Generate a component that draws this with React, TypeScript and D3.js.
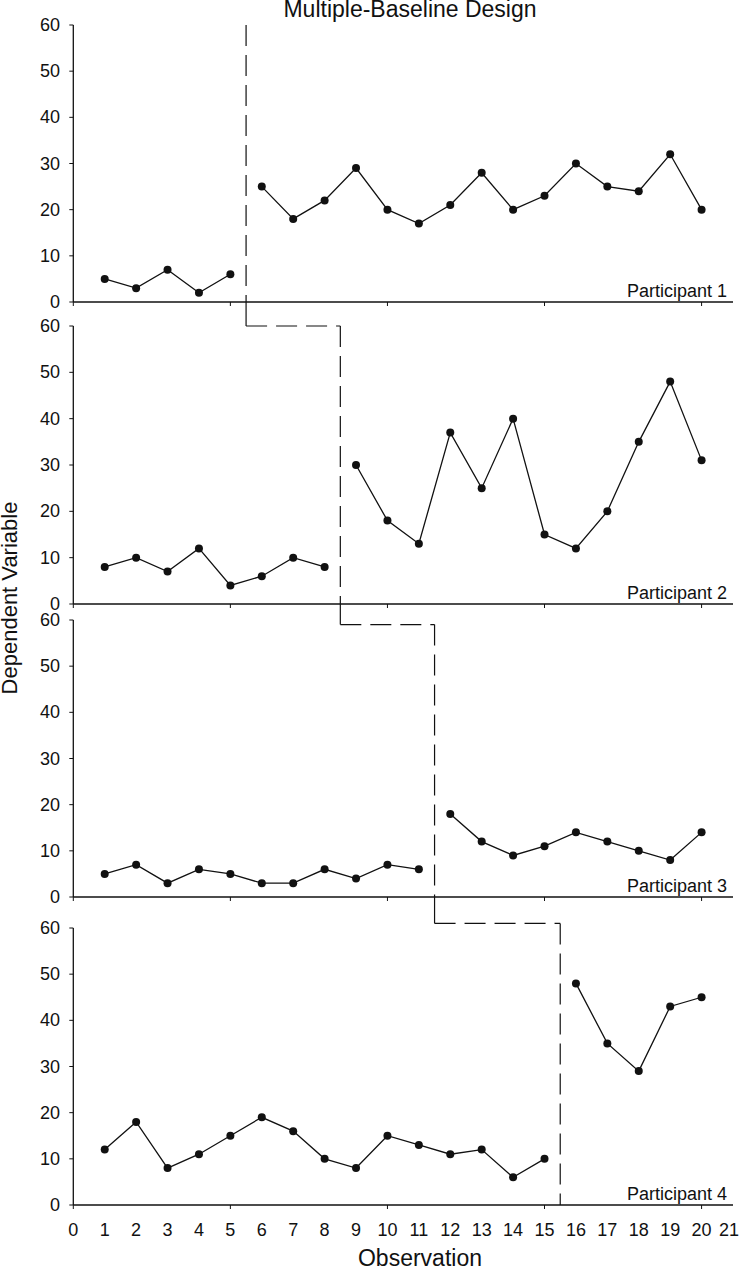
import React from "react";
import * as d3 from "d3";

const observations = d3.range(1, 21);
const participants = ["Participant 1", "Participant 2", "Participant 3", "Participant 4"];
const p1Values = [5, 3, 7, 2, 6, 25, 18, 22, 29, 20, 17, 21, 28, 20, 23, 30, 25, 24, 32, 20];
const p2Values = [8, 10, 7, 12, 4, 6, 10, 8, 30, 18, 13, 37, 25, 40, 15, 12, 20, 35, 48, 31];
const p3Values = [5, 7, 3, 6, 5, 3, 3, 6, 4, 7, 6, 18, 12, 9, 11, 14, 12, 10, 8, 14];
const p4Values = [12, 18, 8, 11, 15, 19, 16, 10, 8, 15, 13, 11, 12, 6, 10, 48, 35, 29, 43, 45];
const phaseChange = [5.5, 8.5, 11.5, 15.5];
const connectorLevel = [60, 60, 59, 61];
const yTicks = [0, 10, 20, 30, 40, 50, 60];
const xTickLabels = d3.range(0, 22);
const xMajorTicks = [0, 5, 10, 15, 20];

const seriesValues = [p1Values, p2Values, p3Values, p4Values];

const W = 741;
const H = 1271;
const left = 73.3;
const right = 733;
const panelRanges: [number, number][] = [
  [25, 302],
  [326, 604],
  [620, 897],
  [928, 1205],
];
const FONT = "'Liberation Sans', Arial, sans-serif";
const INK = "#111";

export default function App() {
  const x = d3.scaleLinear().domain([0, 21]).range([left, right]);
  const ys = panelRanges.map(([t, b]) => d3.scaleLinear().domain([0, 60]).range([b, t]));
  const dash = "21,9";

  return (
    <svg
      width={W}
      height={H}
      style={{ position: "absolute", left: 0, top: 0, background: "#fff" }}
      fontFamily={FONT}
    >
      <rect width={W} height={H} fill="#fff" />
      <text x={410} y={17} fontSize={23} textAnchor="middle" fill={INK}>
        Multiple-Baseline Design
      </text>
      <text
        transform={`translate(17, 598) rotate(-90)`}
        fontSize={22}
        textAnchor="middle"
        fill={INK}
      >
        Dependent Variable
      </text>
      <text x={420} y={1266} fontSize={23} textAnchor="middle" fill={INK}>
        Observation
      </text>

      {participants.map((name, i) => {
        const y = ys[i];
        const vals = seriesValues[i];
        const pts = observations.map((o, k) => ({ o, v: vals[k] }));
        const pc = phaseChange[i];
        const base = pts.filter((p) => p.o < pc);
        const treat = pts.filter((p) => p.o > pc);
        const line = d3
          .line<{ o: number; v: number }>()
          .x((d) => x(d.o))
          .y((d) => y(d.v));
        const [top, bottom] = panelRanges[i];
        return (
          <g key={name}>
            <line x1={x(0)} x2={x(0)} y1={top} y2={bottom} stroke={INK} strokeWidth={1.3} />
            <line x1={x(0)} x2={right} y1={bottom} y2={bottom} stroke={INK} strokeWidth={1.5} />
            {yTicks.map((t) => (
              <g key={t}>
                <line x1={x(0) - 4} x2={x(0)} y1={y(t)} y2={y(t)} stroke={INK} strokeWidth={1} />
                <text
                  x={60}
                  y={y(t)}
                  fontSize={18}
                  textAnchor="end"
                  dominantBaseline="central"
                  fill={INK}
                >
                  {t}
                </text>
              </g>
            ))}
            {xMajorTicks.map((t) => (
              <line key={t} x1={x(t)} x2={x(t)} y1={bottom} y2={bottom + 4} stroke={INK} strokeWidth={1} />
            ))}
            <text x={727} y={bottom - 5} fontSize={18} textAnchor="end" fill={INK}>
              {name}
            </text>
            <path d={line(base) || ""} fill="none" stroke={INK} strokeWidth={1.3} />
            <path d={line(treat) || ""} fill="none" stroke={INK} strokeWidth={1.3} />
            {pts.map((p) => (
              <circle key={p.o} cx={x(p.o)} cy={y(p.v)} r={4} fill={INK} />
            ))}
            {i === 0 ? (
              <line x1={x(pc)} x2={x(pc)} y1={top} y2={bottom} stroke={INK} strokeWidth={1.2} strokeDasharray={dash} />
            ) : (
              <>
                <line
                  x1={x(phaseChange[i - 1])}
                  x2={x(pc)}
                  y1={y(connectorLevel[i])}
                  y2={y(connectorLevel[i])}
                  stroke={INK}
                  strokeWidth={1.2}
                  strokeDasharray={dash}
                />
                <line
                  x1={x(pc)}
                  x2={x(pc)}
                  y1={y(connectorLevel[i])}
                  y2={bottom}
                  stroke={INK}
                  strokeWidth={1.2}
                  strokeDasharray={dash}
                />
                <line
                  x1={x(phaseChange[i - 1])}
                  x2={x(phaseChange[i - 1])}
                  y1={panelRanges[i - 1][1]}
                  y2={y(connectorLevel[i])}
                  stroke={INK}
                  strokeWidth={1.2}
                />
              </>
            )}
          </g>
        );
      })}

      {xTickLabels.map((t) => (
        <text key={t} x={Math.min(x(t), 729)} y={1236} fontSize={18} textAnchor="middle" fill={INK}>
          {t}
        </text>
      ))}
    </svg>
  );
}
